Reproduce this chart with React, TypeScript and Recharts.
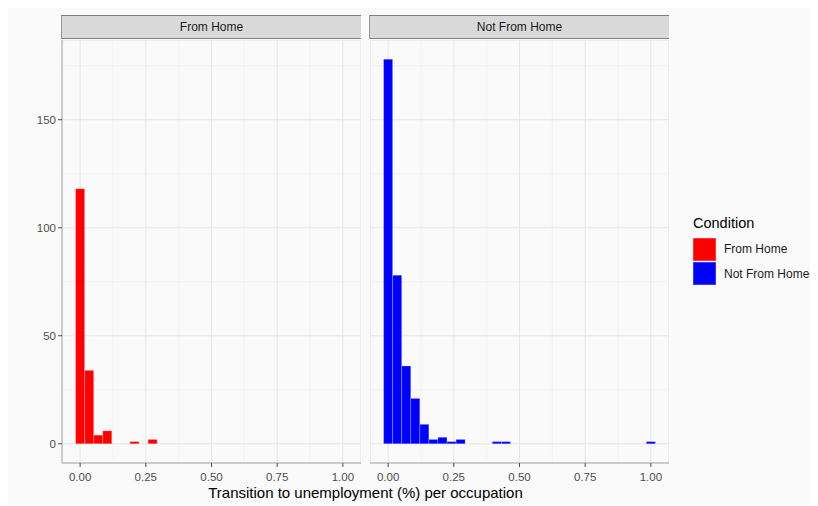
import React from 'react';
import { BarChart, Bar, XAxis, YAxis, CartesianGrid } from 'recharts';

// Histogram bins (30 bins over 0..1, width 1/29), bin centres
const binCenters = [
  0, 0.0345, 0.069, 0.1034, 0.1379, 0.1724, 0.2069, 0.2414, 0.2759, 0.3103,
  0.3448, 0.3793, 0.4138, 0.4483, 0.4828, 0.5172, 0.5517, 0.5862, 0.6207, 0.6552,
  0.6897, 0.7241, 0.7586, 0.7931, 0.8276, 0.8621, 0.8966, 0.931, 0.9655, 1,
];

// Occupation counts per bin
const fromHomeCounts = [
  118, 34, 4, 6, 0, 0, 1, 0, 2, 0,
  0, 0, 0, 0, 0, 0, 0, 0, 0, 0,
  0, 0, 0, 0, 0, 0, 0, 0, 0, 0,
];
const notFromHomeCounts = [
  178, 78, 36, 21, 9, 2, 3, 1, 2, 0,
  0, 0, 1, 1, 0, 0, 0, 0, 0, 0,
  0, 0, 0, 0, 0, 0, 0, 0, 0, 1,
];

const xTicks = [0, 0.25, 0.5, 0.75, 1];
const xMinorTicks = [0.125, 0.375, 0.625, 0.875];
const yTicks = [0, 50, 100, 150];
const yMinorTicks = [25, 75, 125, 175];

const facetNames = ['From Home', 'Not From Home'];
const facetColors = ['#ff0000', '#0000ff'];

const xDomain: [number, number] = [-0.069, 1.069];
const yDomain: [number, number] = [-8.9, 186.9];

const FONT = '"Liberation Sans", Arial, Helvetica, sans-serif';

const toRows = (counts: number[]) =>
  binCenters.map((x, i) => ({ x, count: counts[i] > 0 ? counts[i] : null }));

const PLOT_W = 299;
const PLOT_H = 423;
const XAXIS_H = 30;
const YAXIS_W = 54;

function Panel({ counts, color, showY }: { counts: number[]; color: string; showY: boolean }) {
  const rows = toRows(counts);
  return (
    <BarChart
      width={PLOT_W + (showY ? YAXIS_W : 0)}
      height={PLOT_H + XAXIS_H}
      data={rows}
      margin={{ top: 0, right: 0, bottom: 0, left: 0 }}
      barCategoryGap={0}
      barGap={0}
    >
      <CartesianGrid
        xAxisId="minor"
        yAxisId="minor"
        stroke="#f0f0f0"
        strokeWidth={0.6}
      />
      <CartesianGrid stroke="#e6e6e6" strokeWidth={1} />
      <XAxis
        xAxisId="minor"
        type="number"
        dataKey="x"
        domain={xDomain}
        ticks={xMinorTicks}
        allowDataOverflow
        hide
      />
      <YAxis
        yAxisId="minor"
        type="number"
        domain={yDomain}
        ticks={yMinorTicks}
        allowDataOverflow
        hide
      />
      <XAxis
        type="number"
        dataKey="x"
        domain={xDomain}
        ticks={xTicks}
        allowDataOverflow
        height={XAXIS_H}
        tickFormatter={(v: number) => v.toFixed(2)}
        tick={{ fill: '#4d4d4d', fontSize: 11.5, fontFamily: FONT }}
        tickSize={4}
        tickMargin={6}
        tickLine={{ stroke: '#4d4d4d' }}
        axisLine={{ stroke: '#a8a8a8' }}
        interval={0}
      />
      <YAxis
        type="number"
        domain={yDomain}
        ticks={yTicks}
        allowDataOverflow
        width={YAXIS_W}
        hide={!showY}
        tick={{ fill: '#4d4d4d', fontSize: 11.5, fontFamily: FONT }}
        tickSize={4}
        tickMargin={2}
        tickLine={{ stroke: '#4d4d4d' }}
        axisLine={{ stroke: '#a8a8a8' }}
        interval={0}
      />
      <Bar
        dataKey="count"
        fill={color}
        stroke="#ffffff"
        strokeOpacity={0.3}
        strokeWidth={0.7}
        isAnimationActive={false}
      />
    </BarChart>
  );
}

function Strip({ label, left }: { label: string; left: number }) {
  return (
    <div
      style={{
        position: 'absolute',
        left,
        top: 8,
        width: PLOT_W,
        height: 22,
        background: '#d9d9d9',
        borderTop: '1.5px solid #808080',
        borderBottom: '1.5px solid #808080',
        borderLeft: '1px solid #9a9a9a',
        boxSizing: 'content-box',
        display: 'flex',
        alignItems: 'center',
        justifyContent: 'center',
        fontFamily: FONT,
        fontSize: 12,
        color: '#1a1a1a',
      }}
    >
      {label}
    </div>
  );
}

export default function App() {
  const panelLefts = [YAXIS_W, YAXIS_W + PLOT_W + 9];
  return (
    <div
      style={{
        position: 'relative',
        width: 810,
        height: 498,
        marginTop: -1,
        background: '#fafafa',
        fontFamily: FONT,
        overflow: 'hidden',
      }}
    >
      <Strip label={facetNames[0]} left={panelLefts[0] - 1} />
      <Strip label={facetNames[1]} left={panelLefts[1] - 1} />

      <div style={{ position: 'absolute', left: 0, top: 33 }}>
        <Panel counts={fromHomeCounts} color={facetColors[0]} showY={true} />
      </div>
      <div style={{ position: 'absolute', left: panelLefts[1], top: 33 }}>
        <Panel counts={notFromHomeCounts} color={facetColors[1]} showY={false} />
      </div>

      <div
        style={{
          position: 'absolute',
          left: panelLefts[0],
          width: panelLefts[1] + PLOT_W - panelLefts[0],
          top: 477,
          textAlign: 'center',
          fontSize: 15,
          lineHeight: '18px',
          color: '#000',
        }}
      >
        Transition to unemployment (%) per occupation
      </div>

      <div style={{ position: 'absolute', left: 685, top: 207, fontSize: 14.5, lineHeight: '18px', color: '#000' }}>
        Condition
      </div>
      {facetNames.map((name, i) => (
        <div
          key={name}
          style={{ position: 'absolute', left: 685, top: 230 + i * 24.5, height: 24, display: 'flex', alignItems: 'center' }}
        >
          <div
            style={{
              width: 23,
              height: 23,
              background: facetColors[i],
              boxShadow: `inset 0 0 0 0.7px rgba(255,255,255,0.3)`,
            }}
          />
          <span style={{ marginLeft: 8, fontSize: 12, color: '#1a1a1a' }}>{name}</span>
        </div>
      ))}
    </div>
  );
}
